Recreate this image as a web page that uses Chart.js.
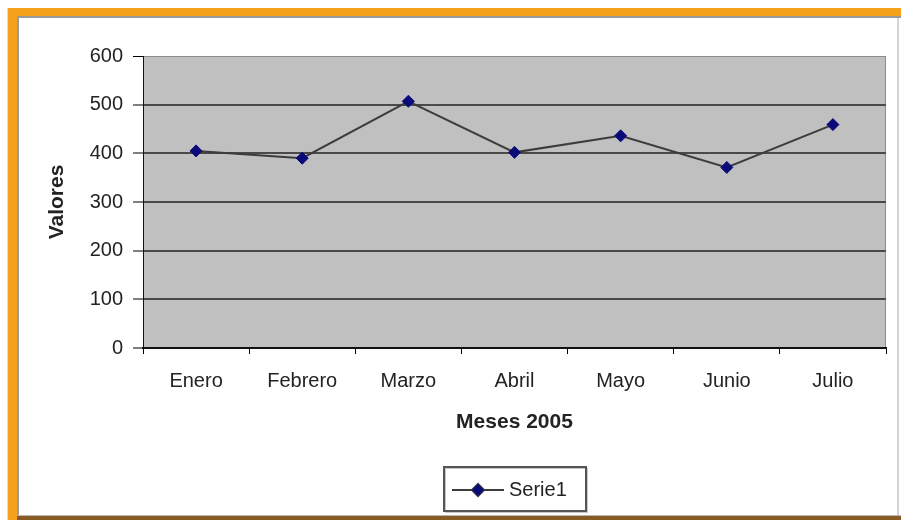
<!DOCTYPE html>
<html>
<head>
<meta charset="utf-8">
<script src="https://cdn.jsdelivr.net/npm/chart.js@4/dist/chart.umd.min.js"></script>
<style>
  html, body { margin: 0; padding: 0; background: #ffffff; }
  #wrap { width: 901px; height: 520px; }
</style>
</head>
<body>
<div id="wrap"><canvas id="c" width="901" height="520"></canvas></div>
<script>
// Monthly values for 2005
const meses = ['Enero', 'Febrero', 'Marzo', 'Abril', 'Mayo', 'Junio', 'Julio'];
const serie1 = [405, 390, 507, 402, 436, 371, 459];
const serieNombre = 'Serie1';
const ejeYTicks = [0, 100, 200, 300, 400, 500, 600];
const tituloX = 'Meses 2005';
const tituloY = 'Valores';

const FONT = '"Liberation Sans", Arial, sans-serif';
const TEXT = '#232323';

// Outer frame: orange edges top/left, thin shadow lines, brown bottom rule
const framePlugin = {
  id: 'frame',
  beforeDraw(chart) {
    const { ctx, width, height } = chart;
    ctx.save();
    ctx.fillStyle = '#ffffff';
    ctx.fillRect(0, 0, width, height);
    // orange bands
    ctx.fillStyle = '#f6a11c';
    ctx.fillRect(8, 8, width - 8, 8);
    ctx.fillRect(8, 8, 9, height - 8);
    ctx.fillStyle = '#f3dfa0';
    ctx.fillRect(7, 8, 1, height - 8);
    // inner shadow
    ctx.fillStyle = '#9a9a9a';
    ctx.fillRect(17, 16, width - 17, 2);
    ctx.fillRect(17, 16, 2, height - 16);
    // right edge
    ctx.fillStyle = '#d4d4d4';
    ctx.fillRect(width - 4, 18, 2, height - 18);
    // bottom rule
    ctx.fillStyle = '#b8b8b8';
    ctx.fillRect(17, height - 5, width - 17, 1);
    ctx.fillStyle = '#8a5a24';
    ctx.fillRect(17, height - 4, width - 17, 4);
    ctx.restore();
  }
};

// Grey plot-area background with a light border
const plotAreaPlugin = {
  id: 'plotArea',
  beforeDatasetsDraw() {},
  beforeDraw(chart) {
    const { ctx, chartArea: a } = chart;
    ctx.save();
    ctx.fillStyle = '#c0c0c0';
    ctx.fillRect(a.left, a.top, a.right - a.left, a.bottom - a.top);
    ctx.strokeStyle = '#8c8c8c';
    ctx.lineWidth = 1;
    ctx.strokeRect(a.left + 0.5, a.top + 0.5, a.right - a.left - 1, a.bottom - a.top - 1);
    ctx.restore();
  }
};

// Boxed legend below the axis title, drawn from the dataset's own styling
const boxLegendPlugin = {
  id: 'boxLegend',
  afterDraw(chart) {
    const { ctx, chartArea: a } = chart;
    const ds = chart.data.datasets[0];
    const cx = (a.left + a.right) / 2;
    const w = 142, h = 44;
    const x0 = Math.round(cx - w / 2), y0 = chart.height - 53;
    ctx.save();
    ctx.fillStyle = '#ffffff';
    ctx.fillRect(x0, y0, w, h);
    ctx.strokeStyle = '#c8c8c8';
    ctx.lineWidth = 1;
    ctx.strokeRect(x0 + 1.5, y0 + 1.5, w, h);
    ctx.strokeStyle = '#555555';
    ctx.lineWidth = 2;
    ctx.strokeRect(x0, y0, w, h);
    const ly = y0 + h / 2 + 1;
    ctx.strokeStyle = ds.borderColor;
    ctx.lineWidth = ds.borderWidth;
    ctx.beginPath();
    ctx.moveTo(x0 + 8, ly);
    ctx.lineTo(x0 + 60, ly);
    ctx.stroke();
    Chart.helpers.drawPoint(ctx, {
      pointStyle: ds.pointStyle,
      radius: ds.pointRadius,
      borderWidth: 1
    }, x0 + 34, ly);
    ctx.fillStyle = ds.pointBackgroundColor;
    ctx.beginPath();
    const r = ds.pointRadius;
    ctx.moveTo(x0 + 34, ly - r);
    ctx.lineTo(x0 + 34 + r, ly);
    ctx.lineTo(x0 + 34, ly + r);
    ctx.lineTo(x0 + 34 - r, ly);
    ctx.closePath();
    ctx.fill();
    ctx.fillStyle = TEXT;
    ctx.font = '20px ' + FONT;
    ctx.textBaseline = 'middle';
    ctx.textAlign = 'left';
    ctx.fillText(ds.label, x0 + 65, ly);
    ctx.restore();
  }
};

new Chart(document.getElementById('c'), {
  type: 'line',
  data: {
    labels: meses,
    datasets: [{
      label: serieNombre,
      data: serie1,
      borderColor: '#3c3c3c',
      borderWidth: 2,
      tension: 0,
      pointStyle: 'rectRot',
      pointRadius: 6,
      pointHoverRadius: 6,
      pointBackgroundColor: '#0a0a78',
      pointBorderColor: '#0a0a78',
      pointBorderWidth: 1
    }]
  },
  options: {
    responsive: false,
    devicePixelRatio: 1,
    animation: false,
    events: [],
    layout: { padding: { left: 18, top: 56, right: 15, bottom: 80 } },
    plugins: {
      legend: { display: false },
      tooltip: { enabled: false }
    },
    scales: {
      x: {
        type: 'category',
        offset: true,
        afterFit(scale) { scale.height = 92; },
        grid: {
          offset: true,
          drawOnChartArea: false,
          drawTicks: true,
          tickLength: 6,
          tickColor: '#000000',
          tickWidth: 1
        },
        border: { display: true, color: '#111111', width: 2 },
        ticks: {
          color: TEXT,
          padding: 15,
          maxRotation: 0,
          font: { family: FONT, size: 20 }
        },
        title: {
          display: true,
          text: tituloX,
          color: TEXT,
          padding: { top: 4, bottom: 5 },
          font: { family: FONT, size: 21, weight: 'bold' }
        }
      },
      y: {
        min: 0,
        max: 600,
        afterFit(scale) { scale.width = 125; },
        afterBuildTicks(scale) { scale.ticks = ejeYTicks.map(v => ({ value: v })); },
        grid: {
          color: (c) => c.tick && c.tick.value === 600 ? '#8c8c8c' : '#4a4a4a',
          lineWidth: (c) => c.tick && c.tick.value === 600 ? 1 : 2,
          drawTicks: true,
          tickLength: 10,
          tickColor: '#000000',
          tickWidth: 1
        },
        border: { display: true, color: '#111111', width: 1 },
        ticks: {
          color: TEXT,
          padding: 10,
          font: { family: FONT, size: 20 }
        },
        title: {
          display: true,
          text: tituloY,
          color: TEXT,
          padding: { top: 27, bottom: 0 },
          font: { family: FONT, size: 21, weight: 'bold' }
        }
      }
    }
  },
  plugins: [framePlugin, plotAreaPlugin, boxLegendPlugin]
});
</script>
</body>
</html>
